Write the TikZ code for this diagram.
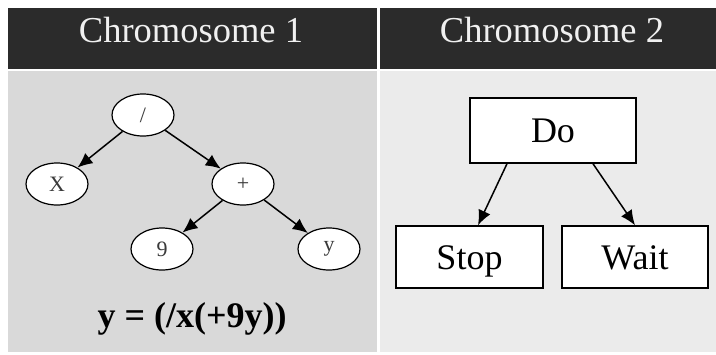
\documentclass[tikz,border=0pt]{standalone}
\usepackage{fontspec}
\setmainfont{Liberation Serif}
\usetikzlibrary{arrows.meta,shapes.geometric}
\definecolor{hdrfill}{HTML}{2B2B2B}
\definecolor{hdrtext}{HTML}{F0F0F0}
\definecolor{leftbody}{HTML}{D9D9D9}
\definecolor{rightbody}{HTML}{EBEBEB}
\definecolor{genelabel}{HTML}{3A3A3A}
\begin{document}
\begin{tikzpicture}[x=1pt,y=-1pt,
  title/.style={anchor=base,text=hdrtext,font=\fontsize{36.5}{40}\selectfont,inner sep=0pt},
  gene/.style={ellipse,draw=black,fill=white,line width=1.2pt,minimum width=62pt,minimum height=42pt,inner sep=0pt,text=genelabel,font=\fontsize{22}{24}\selectfont},
  cmd/.style={rectangle,draw=black,fill=white,line width=1.5pt,inner sep=0pt,text height=24pt,text depth=0pt,font=\fontsize{36}{40}\selectfont},
  arr/.style={line width=1.5pt,-{Latex[length=15pt,width=13pt]}}]
\useasboundingbox (0,0) rectangle (716,354);
\fill[white] (0,0) rectangle (716,354);
% table cells
\fill[hdrfill] (8,8) rectangle (377,69);
\fill[hdrfill] (380,8) rectangle (716,69);
\fill[leftbody] (8,71) rectangle (377,352);
\fill[rightbody] (380,71) rectangle (716,352);
% headers
\node[title] (h1) at (191,42) {Chromosome 1};
\node[title] (h2) at (552,42) {Chromosome 2};
% expression tree
\node[gene] (div) at (143,115) {/};
\node[gene] (xv) at (57,184) {X};
\node[gene] (plus) at (243,184) {+};
\node[gene] (nine) at (162,249) {9};
\node[gene] (yv) at (329,249) {y};
\draw[arr] (div) -- (xv);
\draw[arr] (div) -- (plus);
\draw[arr] (plus) -- (nine);
\draw[arr] (plus) -- (yv);
\node[anchor=base,inner sep=0pt,font=\bfseries\fontsize{36}{40}\selectfont] (expr) at (192,327) {y = (/x(+9y))};
% command tree
\node[cmd,minimum width=166pt,minimum height=65pt] (do) at (553,130.5) {Do};
\node[cmd,minimum width=147pt,minimum height=62pt] (stop) at (469.5,257) {Stop};
\node[cmd,minimum width=146pt,minimum height=62pt] (wait) at (635,257) {Wait};
\draw[arr] ([xshift=-46pt]do.south) -- ([xshift=8.5pt]stop.north);
\draw[arr] ([xshift=40pt]do.south) -- (wait.north);
\end{tikzpicture}
\end{document}
